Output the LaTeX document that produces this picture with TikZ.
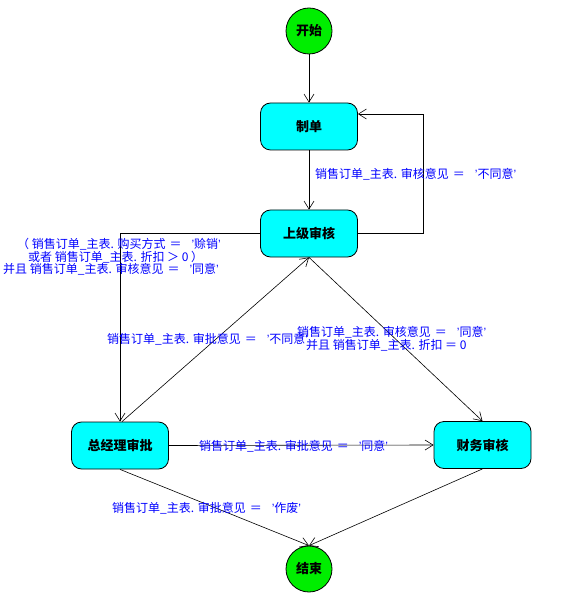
\documentclass[tikz,border=0pt]{standalone}
\usepackage{fontspec}
\setmainfont{Noto Sans CJK SC}
\newfontfamily\qfont{Liberation Sans}
\newcommand{\qq}{{\qfont ’}}
\newcommand{\eqq}{\hspace{4pt}＝\hspace{10pt}}
\usetikzlibrary{arrows.meta,positioning}
\definecolor{boxcyan}{RGB}{0,255,255}
\definecolor{startgreen}{RGB}{0,238,0}
\definecolor{lblblue}{RGB}{0,0,255}
\tikzset{
  statebox/.style={draw=black,line width=0.8pt,fill=boxcyan,rounded corners=10pt,
    minimum width=97pt,minimum height=47pt,inner sep=0pt,font=\fontsize{13}{13}\selectfont\bfseries},
  termcircle/.style={draw=black,line width=0.8pt,fill=startgreen,circle,minimum size=46pt,
    inner sep=0pt,font=\fontsize{13}{13}\selectfont\bfseries},
  flow/.style={draw=black,line width=0.6pt,-{Straight Barb[length=8pt,width=10pt,line width=0.6pt]}},
  cond/.style={text=lblblue,font=\fontsize{12}{12.5}\selectfont,inner sep=0pt,anchor=west,align=left},
}
\begin{document}
\begin{tikzpicture}[x=1pt,y=-1pt]
\useasboundingbox (0,0) rectangle (575,593);
\node[termcircle] (start) at (309,31) {开始};
\node[statebox] (zhidan) at (309,126.5) {制单};
\node[statebox] (shangji) at (309,233.5) {上级审核};
\node[statebox] (zjl) at (120,445.5) {总经理审批};
\node[statebox] (caiwu) at (482.5,445) {财务审核};
\node[termcircle] (end) at (309,569) {结束};
\coordinate (loopc) at (423,114);

\draw[flow] (start) -- (zhidan);
\draw[flow] (zhidan) -- (shangji);
\draw[flow] (shangji.east) -| (loopc) -- (zhidan.east |- loopc);
\draw[flow] (shangji.west) -| (zjl.north);
\draw[flow] ([xshift=2pt]zjl.north) -- (shangji.south);
\draw[flow] (shangji.south) -- (caiwu.north);
\draw[flow] (zjl.east) -- (caiwu.west);
\draw[flow] (zjl.south) -- (end.north);
\draw[flow] (caiwu.south) -- (end.north);

\node[cond] (l1) at (315,174) {销售订单\_主表. 审核意见\eqq\qq 不同意\qq};
\node[cond] (l2) at (3,257) {\hspace*{14pt}（ 销售订单\_主表. 购买方式\eqq\qq 赊销\qq\\\hspace*{25pt}或者 销售订单\_主表. 折扣 ＞ 0 ）\\并且 销售订单\_主表. 审核意见\eqq\qq 同意\qq};
\node[cond] (l3) at (107,339) {销售订单\_主表. 审批意见\eqq\qq 不同意\qq};
\node[cond] (l4) at (297,338.5) {销售订单\_主表. 审核意见\eqq\qq 同意\qq\\\hspace*{9pt}并且 销售订单\_主表. 折扣 ＝ 0};
\node[cond] (l5) at (199,446) {销售订单\_主表. 审批意见\eqq\qq 同意\qq};
\node[cond] (l6) at (112,508) {销售订单\_主表. 审批意见\eqq\qq 作废\qq};
\end{tikzpicture}
\end{document}
